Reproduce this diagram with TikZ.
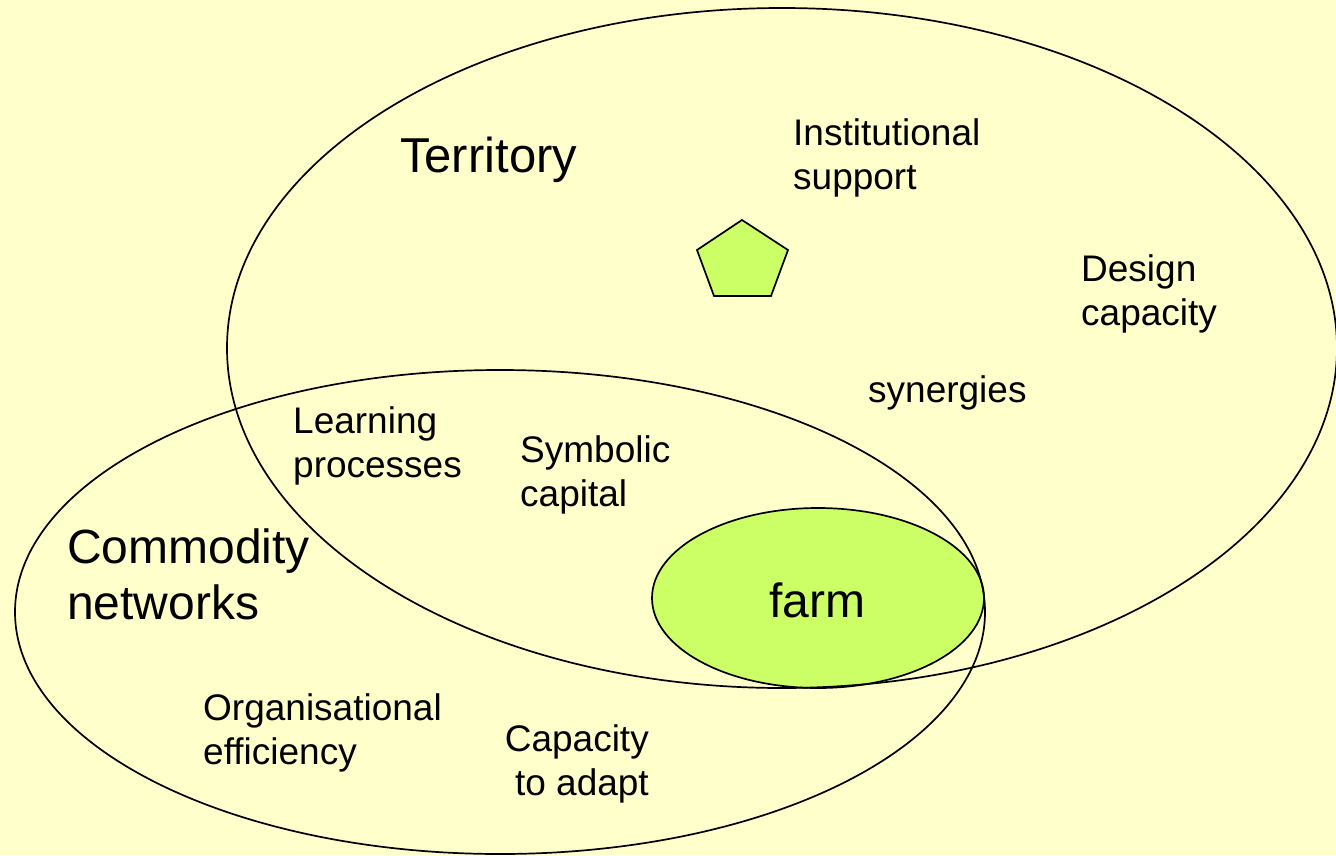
\documentclass[tikz,border=0pt]{standalone}
\usepackage{fontspec}
\setmainfont{Liberation Sans}
\usetikzlibrary{shapes.geometric}
\definecolor{bgyellow}{HTML}{FFFFCC}
\definecolor{farmgreen}{HTML}{CCFF66}
\begin{document}
\begin{tikzpicture}[x=1pt,y=-1pt,
  outline/.style={draw=black,line width=1.7pt},
  smalltxt/.style={inner sep=0pt,align=left,font=\fontsize{37}{44}\selectfont},
  bigtxt/.style={inner sep=0pt,align=left,font=\fontsize{48}{56}\selectfont}]
\useasboundingbox[fill=bgyellow] (0,0) rectangle (1336,855);
% farm fill
\fill[farmgreen] (818,598) ellipse [x radius=166, y radius=90];
% big ellipses
\draw[outline] (782,348) ellipse [x radius=555, y radius=340];
\draw[outline] (500,612) ellipse [x radius=485, y radius=242];
% farm outline
\node[ellipse,draw=black,line width=1.7pt,minimum width=332pt,minimum height=180pt,inner sep=0pt] (farm) at (818,598) {};
\node[anchor=base,inner sep=0pt,font=\fontsize{48}{56}\selectfont] (farmtxt) at (817,617) {farm};
% pentagon
\filldraw[fill=farmgreen,draw=black,line width=1.7pt,line join=miter]
  (742,220) -- (788,250) -- (771,296) -- (714,296) -- (697,250) -- cycle;
% labels
\node[anchor=north west,inner sep=0pt,font=\fontsize{49}{58}\selectfont] (terr) at (400,137) {Territory};
\node[bigtxt,anchor=north west] (comm) at (67,529) {Commodity\\networks};
\node[smalltxt,anchor=north west] (inst) at (793,118) {Institutional\\support};
\node[smalltxt,anchor=north west] (design) at (1081,254) {Design\\capacity};
\node[smalltxt,anchor=north west] (syn) at (868,375) {synergies};
\node[smalltxt,anchor=north west] (learn) at (293,406) {Learning\\processes};
\node[smalltxt,anchor=north west] (symb) at (520,435) {Symbolic\\capital};
\node[smalltxt,anchor=north west] (org) at (203,693) {Organisational\\efficiency};
\node[smalltxt,anchor=north east,align=right] (adapt) at (649,724) {Capacity\\to adapt};
\end{tikzpicture}
\end{document}
